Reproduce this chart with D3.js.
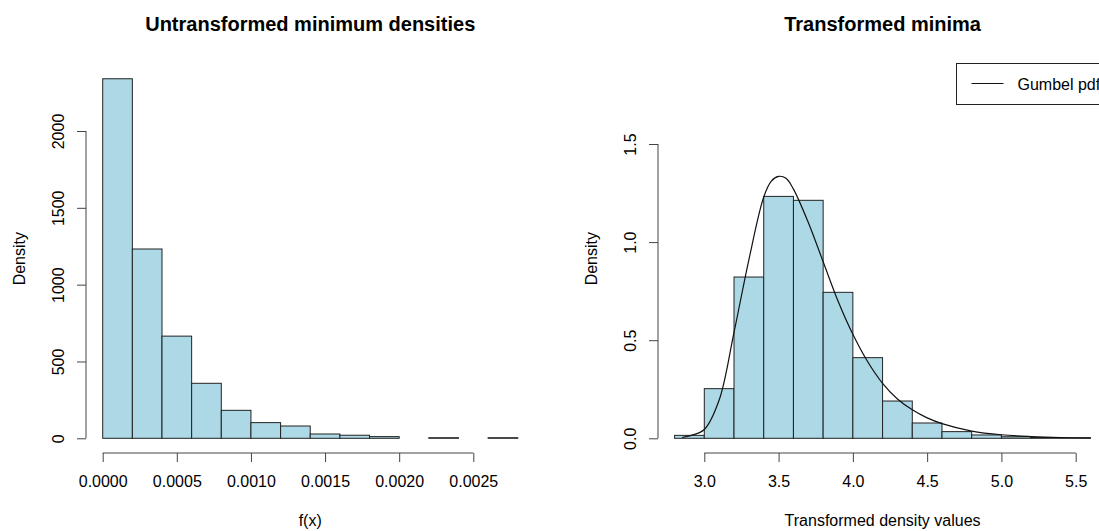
<!DOCTYPE html>
<html>
<head>
<meta charset="utf-8">
<script src="https://cdn.jsdelivr.net/npm/d3@7"></script>
<style>
  body { margin: 0; background: #fff; }
  svg text { font-family: "Liberation Sans", Arial, sans-serif; fill: #000; }
</style>
</head>
<body>
<div id="chart"></div>
<script>
// ---- data ----
// left histogram: bin edges every 0.0002, density per bin
const leftBreaks = [0, 0.0002, 0.0004, 0.0006, 0.0008, 0.0010, 0.0012, 0.0014,
                    0.0016, 0.0018, 0.0020, 0.0022, 0.0024, 0.0026, 0.0028];
const leftDensity = [2340, 1232, 665, 358, 182, 102, 80, 28, 20, 11, 0, 4, 0, 4];
const leftXTicks = [0, 0.0005, 0.0010, 0.0015, 0.0020, 0.0025];
const leftYTicks = [0, 500, 1000, 1500, 2000];

// right histogram: bin edges every 0.2
const rightBreaks = [2.8, 3.0, 3.2, 3.4, 3.6, 3.8, 4.0, 4.2, 4.4, 4.6, 4.8, 5.0, 5.2, 5.4, 5.6];
const rightDensity = [0.015, 0.253, 0.822, 1.233, 1.213, 0.744, 0.411, 0.19, 0.078,
                      0.034, 0.017, 0.008, 0.004, 0.002];
const rightXTicks = [3.0, 3.5, 4.0, 4.5, 5.0, 5.5];
const rightYTicks = [0, 0.5, 1.0, 1.5];

// Gumbel pdf curve
const curveX = [2.85, 2.9, 3.0, 3.1, 3.2, 3.3, 3.4, 3.45, 3.5, 3.55, 3.6, 3.7, 3.8, 3.9,
                4.0, 4.1, 4.2, 4.3, 4.4, 4.5, 4.6, 4.8, 5.0, 5.2, 5.4, 5.6];
const curveY = [0.004, 0.012, 0.045, 0.195, 0.54, 0.91, 1.23, 1.31, 1.335, 1.325, 1.27,
                1.10, 0.90, 0.70, 0.53, 0.39, 0.28, 0.20, 0.145, 0.104, 0.075, 0.037,
                0.018, 0.009, 0.004, 0.002];

const W = 1099, H = 531;
const svg = d3.select("#chart").append("svg")
    .attr("width", W).attr("height", H)
    .style("display", "block");

const barFill = "#add8e6";
const axisY0 = 453;   // y of the bottom axis line (edge of plot region)

function panel(opt) {
  const x = d3.scaleLinear().domain(opt.xDom).range(opt.xRange);
  const y = d3.scaleLinear().domain(opt.yDom).range(opt.yRange);
  const g = svg.append("g");

  // bars
  const bins = opt.density.map((d, i) => ({ x0: opt.breaks[i], x1: opt.breaks[i + 1], d }));
  g.selectAll("rect.bar").data(bins).enter().append("rect")
      .attr("class", "bar")
      .attr("x", b => x(b.x0))
      .attr("width", b => x(b.x1) - x(b.x0))
      .attr("y", b => y(b.d))
      .attr("height", b => y(0) - y(b.d))
      .attr("fill", barFill)
      .attr("stroke", "#222")
      .attr("stroke-width", 1);

  // bottom axis
  const xa = g.append("g").attr("transform", `translate(0,${axisY0})`)
      .call(d3.axisBottom(x).tickValues(opt.xTicks).tickFormat(opt.xFmt)
            .tickSize(9).tickPadding(14));
  xa.select(".domain").attr("d", `M${x(opt.xTicks[0])},0H${x(opt.xTicks[opt.xTicks.length - 1])}`)
      .attr("stroke", "#444");
  xa.selectAll(".tick line").attr("stroke", "#444");
  xa.selectAll(".tick text").style("font-size", "16px").attr("fill", "#111");

  // left axis
  const ya = g.append("g").attr("transform", `translate(${opt.axisX},0)`)
      .call(d3.axisLeft(y).tickValues(opt.yTicks).tickFormat(opt.yFmt).tickSize(9));
  ya.select(".domain").attr("d", `M0,${y(opt.yTicks[0])}V${y(opt.yTicks[opt.yTicks.length - 1])}`)
      .attr("stroke", "#444");
  ya.selectAll(".tick line").attr("stroke", "#444");
  ya.selectAll(".tick text")
      .style("font-size", "16px").attr("fill", "#111")
      .attr("x", null).attr("dy", null)
      .attr("text-anchor", "middle")
      .attr("transform", "translate(-22,0) rotate(-90)");

  const cxPlot = x((opt.breaks[0] + opt.breaks[opt.breaks.length - 1]) / 2);

  // titles and labels
  svg.append("text").attr("x", cxPlot).attr("y", 31)
      .attr("text-anchor", "middle").style("font-size", "20px").style("font-weight", "bold")
      .text(opt.title);
  svg.append("text").attr("x", cxPlot).attr("y", 526)
      .attr("text-anchor", "middle").style("font-size", "16px").attr("fill", "#111")
      .text(opt.xLabel);
  svg.append("text")
      .attr("transform", `translate(${opt.axisX - 61},${(axisY0 + 64.4) / 2}) rotate(-90)`)
      .attr("text-anchor", "middle").style("font-size", "16px").attr("fill", "#111")
      .text("Density");

  return { x, y, g };
}

// left panel
panel({
  breaks: leftBreaks, density: leftDensity,
  xDom: [0, 0.0025], xRange: [102.7, 473.3],
  yDom: [0, 2000], yRange: [438.3, 131],
  xTicks: leftXTicks, yTicks: leftYTicks,
  xFmt: d3.format(".4f"), yFmt: d3.format("d"),
  axisX: 86,
  title: "Untransformed minimum densities", xLabel: "f(x)"
});

// right panel
const right = panel({
  breaks: rightBreaks, density: rightDensity,
  xDom: [3, 5.5], xRange: [704.3, 1075.7],
  yDom: [0, 1.5], yRange: [438.3, 144],
  xTicks: rightXTicks, yTicks: rightYTicks,
  xFmt: d3.format(".1f"), yFmt: d3.format(".1f"),
  axisX: 658,
  title: "Transformed minima", xLabel: "Transformed density values"
});

// Gumbel curve
const pts = curveX.map((v, i) => [v, curveY[i]]);
right.g.append("path")
    .datum(pts)
    .attr("fill", "none")
    .attr("stroke", "#111")
    .attr("stroke-width", 1.2)
    .attr("d", d3.line().x(d => right.x(d[0])).y(d => right.y(d[1])).curve(d3.curveCatmullRom));

// legend (runs off the right edge, as in the original)
const leg = svg.append("g");
leg.append("rect").attr("x", 956.5).attr("y", 63.5).attr("width", 160).attr("height", 41)
    .attr("fill", "#fff").attr("stroke", "#222");
leg.append("line").attr("x1", 971.5).attr("x2", 1003.5).attr("y1", 83.5).attr("y2", 83.5)
    .attr("stroke", "#111").attr("stroke-width", 1.2);
leg.append("text").attr("x", 1017.5).attr("y", 89.5)
    .style("font-size", "16px").attr("fill", "#111").text("Gumbel pdf");
</script>
</body>
</html>
